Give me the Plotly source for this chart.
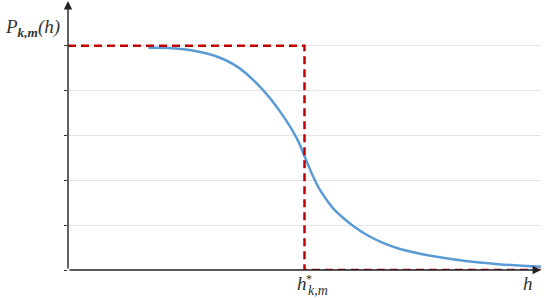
import plotly.graph_objects as go

# Blue curve P_{k,m}(h)
curve_h = [1.7, 2.4, 3.1, 3.6, 4.1, 4.5, 4.84, 5.05, 5.19, 5.33, 5.47, 5.61, 5.82, 6.03,
           6.32, 6.67, 7.02, 7.37, 7.7, 8.4, 9.1, 10.0]
curve_p = [4.96, 4.93, 4.78, 4.52, 4.04, 3.51, 2.93, 2.41, 2.07, 1.78, 1.56, 1.37, 1.16, 0.98,
           0.78, 0.60, 0.47, 0.38, 0.31, 0.20, 0.13, 0.07]

# Red dashed step function
step_h = [0, 5, 5, 10]
step_p = [5, 5, 0, 0]

x_max = 10
y_max = 6

SERIF = "Liberation Serif, DejaVu Serif, serif"
TXT = "#333333"

fig = go.Figure()
fig.add_trace(go.Scatter(x=curve_h, y=curve_p, mode="lines",
                         line=dict(color="#5B9BD5", width=2.5, shape="spline", smoothing=1.0),
                         cliponaxis=False, hoverinfo="skip"))
fig.add_trace(go.Scatter(x=step_h, y=step_p, mode="lines",
                         line=dict(color="#C00000", width=2.5, dash="8px,5px"),
                         cliponaxis=False, hoverinfo="skip"))

fig.update_layout(
    width=545, height=298,
    margin=dict(l=68, r=4, t=1, b=28),
    paper_bgcolor="white", plot_bgcolor="white",
    showlegend=False,
    xaxis=dict(range=[0, x_max], showgrid=False, zeroline=False, showticklabels=False,
               ticks="", showline=False, fixedrange=True),
    yaxis=dict(range=[0, y_max], tickvals=[0, 1, 2, 3, 4, 5], showgrid=True, gridcolor="#e4e4e4",
               gridwidth=1, zeroline=False, showticklabels=False, ticks="outside", ticklen=3,
               tickcolor="#333333", showline=False, fixedrange=True),
    annotations=[
        # y axis with arrow
        dict(x=0, y=y_max, ax=0, ay=0, xref="x", yref="y", axref="x", ayref="y",
             text="", showarrow=True, arrowhead=2, arrowsize=1.2, arrowwidth=1.4, arrowcolor="#222222"),
        # x axis with arrow
        dict(x=x_max, y=0, ax=0, ay=0, xref="x", yref="y", axref="x", ayref="y",
             text="", showarrow=True, arrowhead=2, arrowsize=1.2, arrowwidth=1.4, arrowcolor="#222222"),
        # y label
        dict(x=-0.1374, y=0.898, xref="paper", yref="paper", xanchor="left", yanchor="middle",
             text="<i>P</i><sub><b><i>k,m</i></b></sub><i>(h)</i>", showarrow=False,
             font=dict(family=SERIF, size=19, color=TXT)),
        # h*_{k,m}
        dict(x=0.4937, y=-0.052, xref="paper", yref="paper", xanchor="center", yanchor="middle",
             text="<i>h</i>", showarrow=False, font=dict(family=SERIF, size=19, color=TXT)),
        dict(x=0.5095, y=-0.035, xref="paper", yref="paper", xanchor="center", yanchor="middle",
             text="*", showarrow=False, font=dict(family=SERIF, size=12, color=TXT)),
        dict(x=0.5025, y=-0.078, xref="paper", yref="paper", xanchor="left", yanchor="middle",
             text="<i>k,m</i>", showarrow=False, font=dict(family=SERIF, size=14, color=TXT)),
        # h
        dict(x=0.9725, y=-0.052, xref="paper", yref="paper", xanchor="center", yanchor="middle",
             text="<i>h</i>", showarrow=False, font=dict(family=SERIF, size=19, color=TXT)),
    ],
)

fig.write_html("out.html", config={"displayModeBar": False},
               post_script="document.body.style.margin='0';document.body.style.overflow='hidden';")
